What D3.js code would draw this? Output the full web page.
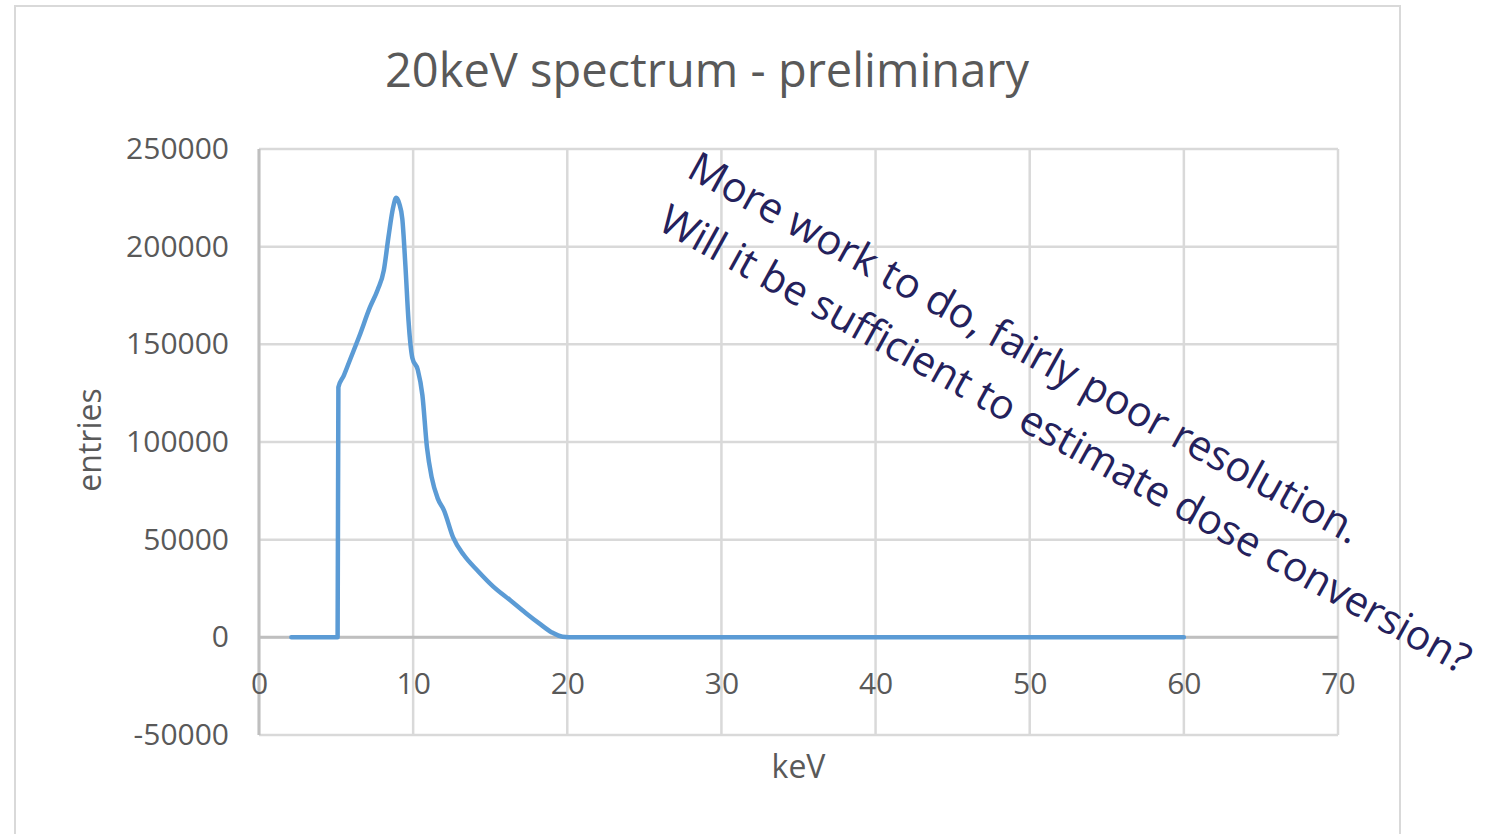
<!DOCTYPE html>
<html>
<head>
<meta charset="utf-8">
<script src="https://cdnjs.cloudflare.com/ajax/libs/d3/7.8.5/d3.min.js"></script>
<style>
  body { margin: 0; background: #fff; }
  text { font-family: "Open Sans", sans-serif; }
</style>
</head>
<body>
<script>
// spectrum (keV, entries)
const keV = [2.1, 5.1, 5.15, 5.5, 5.9, 6.5, 7.2, 7.7, 8.1, 8.4, 8.7, 8.9, 9.1, 9.3, 9.5, 9.7, 9.95,
  10.3, 10.6, 10.9, 11.2, 11.6, 12.0, 12.6, 13.3, 14.2, 15.2, 16.3, 17.3, 18.2, 19.0, 19.7, 20.5,
  30, 40, 50, 60];
const entries = [0, 0, 128000, 134000, 142000, 154000, 169000, 178000, 188000, 205000, 220000, 225000,
  222000, 214000, 190000, 162000, 143000, 137000, 124000, 97000, 82000, 71000, 65000, 51000, 42000,
  34000, 26000, 19000, 12500, 7000, 2500, 300, 0, 0, 0, 0, 0];

const xTicks = [0, 10, 20, 30, 40, 50, 60, 70];
const yTicks = [-50000, 0, 50000, 100000, 150000, 200000, 250000];

const titleText = '20keV spectrum - preliminary';
const xAxisLabel = 'keV';
const yAxisLabel = 'entries';
const note1 = 'More work to do, fairly poor resolution.';
const note2 = 'Will it be sufficient to estimate dose conversion?';

const width = 1494;
const height = 834;
const plot = {left: 259, right: 1338, top: 149, bottom: 735};

const svg = d3.select('body').append('svg')
  .attr('width', width)
  .attr('height', height);

// chart frame
svg.append('rect')
  .attr('x', 15).attr('y', 6)
  .attr('width', 1385).attr('height', 850)
  .attr('fill', '#fff')
  .attr('stroke', '#d9d9d9')
  .attr('stroke-width', 2);

const x = d3.scaleLinear().domain([0, 70]).range([plot.left, plot.right]);
const y = d3.scaleLinear().domain([-50000, 250000]).range([plot.bottom, plot.top]);

// plain hyphen for negatives, like the original
const fmt = d => String(d);

// gridlines
svg.append('g').selectAll('line')
  .data(yTicks)
  .join('line')
  .attr('x1', plot.left).attr('x2', plot.right)
  .attr('y1', d => y(d)).attr('y2', d => y(d))
  .attr('stroke', '#d9d9d9')
  .attr('stroke-width', 2.5);

svg.append('g').selectAll('line')
  .data(xTicks)
  .join('line')
  .attr('x1', d => x(d)).attr('x2', d => x(d))
  .attr('y1', plot.top).attr('y2', plot.bottom)
  .attr('stroke', '#d9d9d9')
  .attr('stroke-width', 2.5);

// axis lines (vertical at x=0, horizontal at y=0)
svg.append('line')
  .attr('x1', x(0)).attr('x2', x(0))
  .attr('y1', plot.top).attr('y2', plot.bottom)
  .attr('stroke', '#bfbfbf').attr('stroke-width', 3);
svg.append('line')
  .attr('x1', plot.left).attr('x2', plot.right)
  .attr('y1', y(0)).attr('y2', y(0))
  .attr('stroke', '#bfbfbf').attr('stroke-width', 3);

// y axis labels
const yAxisG = svg.append('g')
  .attr('transform', `translate(${plot.left},0)`)
  .call(d3.axisLeft(y).tickValues(yTicks).tickSize(0).tickPadding(30).tickFormat(fmt));
yAxisG.select('.domain').remove();
yAxisG.selectAll('text')
  .attr('fill', '#595959')
  .style('font-size', '30px')
  .style('font-family', '"Open Sans", sans-serif');

// x axis labels, sitting under the zero line
const xAxisG = svg.append('g')
  .attr('transform', `translate(0,${y(0)})`)
  .call(d3.axisBottom(x).tickValues(xTicks).tickSize(0).tickFormat(fmt));
xAxisG.select('.domain').remove();
xAxisG.selectAll('text')
  .attr('y', 57)
  .attr('dy', 0)
  .attr('fill', '#595959')
  .style('font-size', '30px')
  .style('font-family', '"Open Sans", sans-serif');

// the spectrum
const line = d3.line()
  .x(d => x(d[0]))
  .y(d => y(d[1]))
  .curve(d3.curveMonotoneX);

svg.append('path')
  .datum(keV.map((k, i) => [k, entries[i]]))
  .attr('d', line)
  .attr('fill', 'none')
  .attr('stroke', '#5b9bd5')
  .attr('stroke-width', 4.5)
  .attr('stroke-linejoin', 'round')
  .attr('stroke-linecap', 'round');

// title
svg.append('text')
  .attr('x', 707)
  .attr('y', 87)
  .attr('text-anchor', 'middle')
  .attr('fill', '#595959')
  .style('font-size', '47px')
  .text(titleText);

// axis titles
svg.append('text')
  .attr('x', (plot.left + plot.right) / 2)
  .attr('y', 778)
  .attr('text-anchor', 'middle')
  .attr('fill', '#595959')
  .style('font-size', '32px')
  .text(xAxisLabel);

svg.append('text')
  .attr('transform', 'translate(101,440) rotate(-90)')
  .attr('text-anchor', 'middle')
  .attr('fill', '#595959')
  .style('font-size', '32px')
  .text(yAxisLabel);

// slanted note on top of the chart
const noteG = svg.append('g')
  .attr('transform', 'translate(685,176) rotate(29)');
noteG.append('text')
  .attr('x', 0).attr('y', 0)
  .attr('fill', '#24215c')
  .style('font-size', '41.6px')
  .text(note1);
noteG.append('text')
  .attr('x', 0).attr('y', 60)
  .attr('fill', '#24215c')
  .style('font-size', '41.2px')
  .text(note2);
</script>
</body>
</html>
